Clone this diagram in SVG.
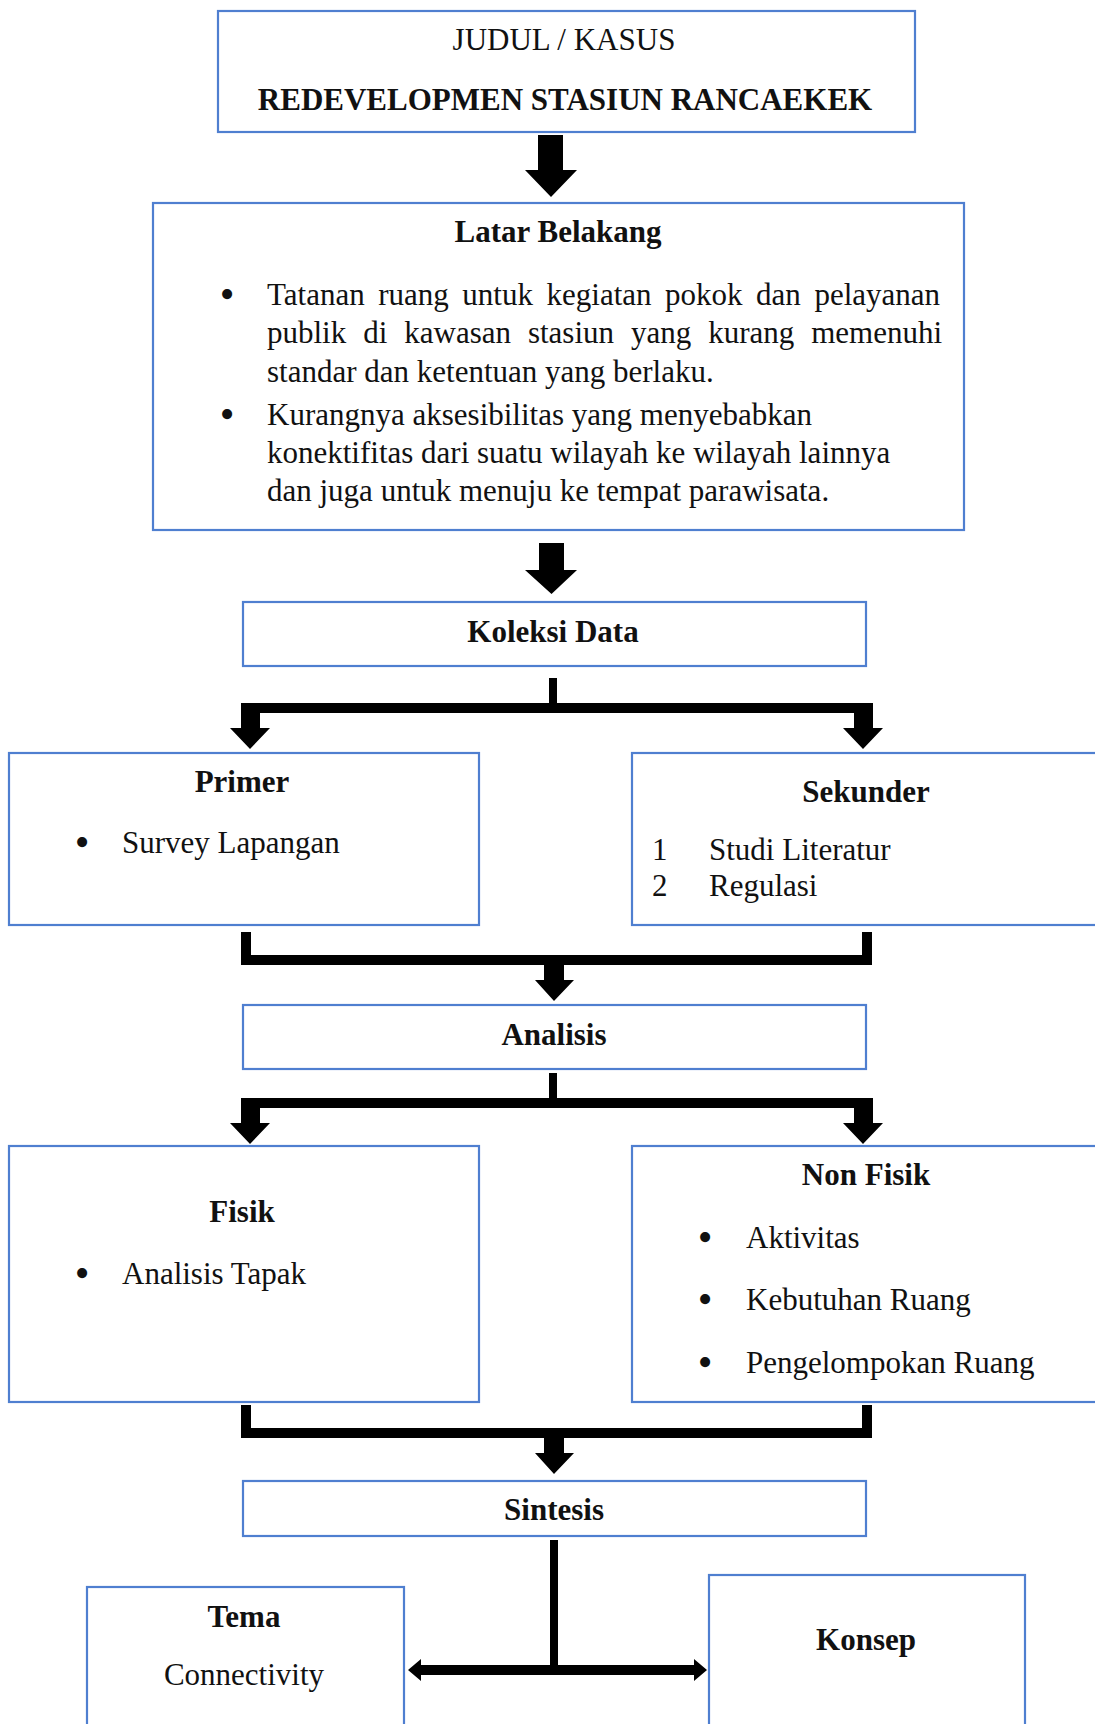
<svg xmlns="http://www.w3.org/2000/svg" width="1095" height="1724" viewBox="0 0 1095 1724">
<style>
.box{fill:#ffffff;stroke:#4f7fd0;stroke-width:2.2}
.t{font-family:"Liberation Serif","Times New Roman",serif;font-size:31px;fill:#111}
.b{font-weight:bold}
.c{text-anchor:middle}
.bu{font-family:"Liberation Serif","Times New Roman",serif;font-size:42px;fill:#111;text-anchor:middle}
.con{fill:#000}
</style>
<rect width="1095" height="1724" fill="#ffffff"/>
<g id="judul">
<rect class="box" x="218" y="11" width="697" height="121"/>
<text class="t c" x="564" y="50">JUDUL / KASUS</text>
<text class="t b c" x="565" y="110">REDEVELOPMEN STASIUN RANCAEKEK</text>
</g>
<g id="latar-belakang">
<rect class="box" x="153" y="203" width="811" height="327"/>
<text class="t b c" x="558" y="242">Latar Belakang</text>
<text class="bu" x="227" y="308">•</text>
<text class="t" x="267" y="305" word-spacing="5.8">Tatanan ruang untuk kegiatan pokok dan pelayanan</text>
<text class="t" x="267" y="343" word-spacing="9.2">publik di kawasan stasiun yang kurang memenuhi</text>
<text class="t" x="267" y="382">standar dan ketentuan yang berlaku.</text>
<text class="bu" x="227" y="428">•</text>
<text class="t" x="267" y="425">Kurangnya aksesibilitas yang menyebabkan</text>
<text class="t" x="267" y="463">konektifitas dari suatu wilayah ke wilayah lainnya</text>
<text class="t" x="267" y="501">dan juga untuk menuju ke tempat parawisata.</text>
</g>
<g id="koleksi-data">
<rect class="box" x="243" y="602" width="623" height="64"/>
<text class="t b c" x="553" y="642">Koleksi Data</text>
</g>
<g id="primer">
<rect class="box" x="9" y="753" width="470" height="172"/>
<text class="t b c" x="242" y="792">Primer</text>
<text class="bu" x="82" y="856">•</text>
<text class="t" x="122" y="853">Survey Lapangan</text>
</g>
<g id="sekunder">
<rect class="box" x="632" y="753" width="480" height="172"/>
<text class="t b c" x="866" y="802">Sekunder</text>
<text class="t" x="652" y="860">1</text>
<text class="t" x="709" y="860">Studi Literatur</text>
<text class="t" x="652" y="896">2</text>
<text class="t" x="709" y="896">Regulasi</text>
</g>
<g id="analisis">
<rect class="box" x="243" y="1005" width="623" height="64"/>
<text class="t b c" x="554" y="1045">Analisis</text>
</g>
<g id="fisik">
<rect class="box" x="9" y="1146" width="470" height="256"/>
<text class="t b c" x="242" y="1222">Fisik</text>
<text class="bu" x="82" y="1287">•</text>
<text class="t" x="122" y="1284">Analisis Tapak</text>
</g>
<g id="non-fisik">
<rect class="box" x="632" y="1146" width="480" height="256"/>
<text class="t b c" x="866" y="1185">Non Fisik</text>
<text class="bu" x="705" y="1251">•</text>
<text class="t" x="746" y="1248">Aktivitas</text>
<text class="bu" x="705" y="1313">•</text>
<text class="t" x="746" y="1310">Kebutuhan Ruang</text>
<text class="bu" x="705" y="1376">•</text>
<text class="t" x="746" y="1373">Pengelompokan Ruang</text>
</g>
<g id="sintesis">
<rect class="box" x="243" y="1481" width="623" height="55"/>
<text class="t b c" x="554" y="1520">Sintesis</text>
</g>
<g id="tema">
<rect class="box" x="87" y="1587" width="317" height="160"/>
<text class="t b c" x="244" y="1627">Tema</text>
<text class="t c" x="244" y="1685">Connectivity</text>
</g>
<g id="konsep">
<rect class="box" x="709" y="1575" width="316" height="170"/>
<text class="t b c" x="866" y="1650">Konsep</text>
</g>
<g id="connectors">
<polygon class="con" points="538,135 563,135 563,170 577,170 551,197 525,170 538,170"/>
<polygon class="con" points="539,543 564,543 564,570 577,570 551.5,594 525,570 539,570"/>
<rect class="con" x="549" y="678" width="8" height="27"/>
<polygon class="con" points="241,703 873,703 873,728 883,728 863,749 843,728 854,728 854,713 260,713 260,728 270,728 250,749 230,728 241,728"/>
<polygon class="con" points="241,932 251,932 251,955 862,955 862,932 872,932 872,965 564,965 564,980 574,980 554,1001 535,980 544,980 544,965 241,965"/>
<rect class="con" x="549" y="1073" width="8" height="27"/>
<polygon class="con" points="241,1098 873,1098 873,1123 883,1123 863,1144 843,1123 854,1123 854,1108 260,1108 260,1123 270,1123 250,1144 230,1123 241,1123"/>
<polygon class="con" points="241,1405 251,1405 251,1428 862,1428 862,1405 872,1405 872,1438 564,1438 564,1453 574,1453 554,1474 535,1453 544,1453 544,1438 241,1438"/>
<rect class="con" x="550" y="1540" width="8" height="130"/>
<polygon class="con" points="408,1670 421,1659 421,1665 694,1665 694,1659 707,1670 694,1681 694,1675 421,1675 421,1681"/>
</g>
</svg>
